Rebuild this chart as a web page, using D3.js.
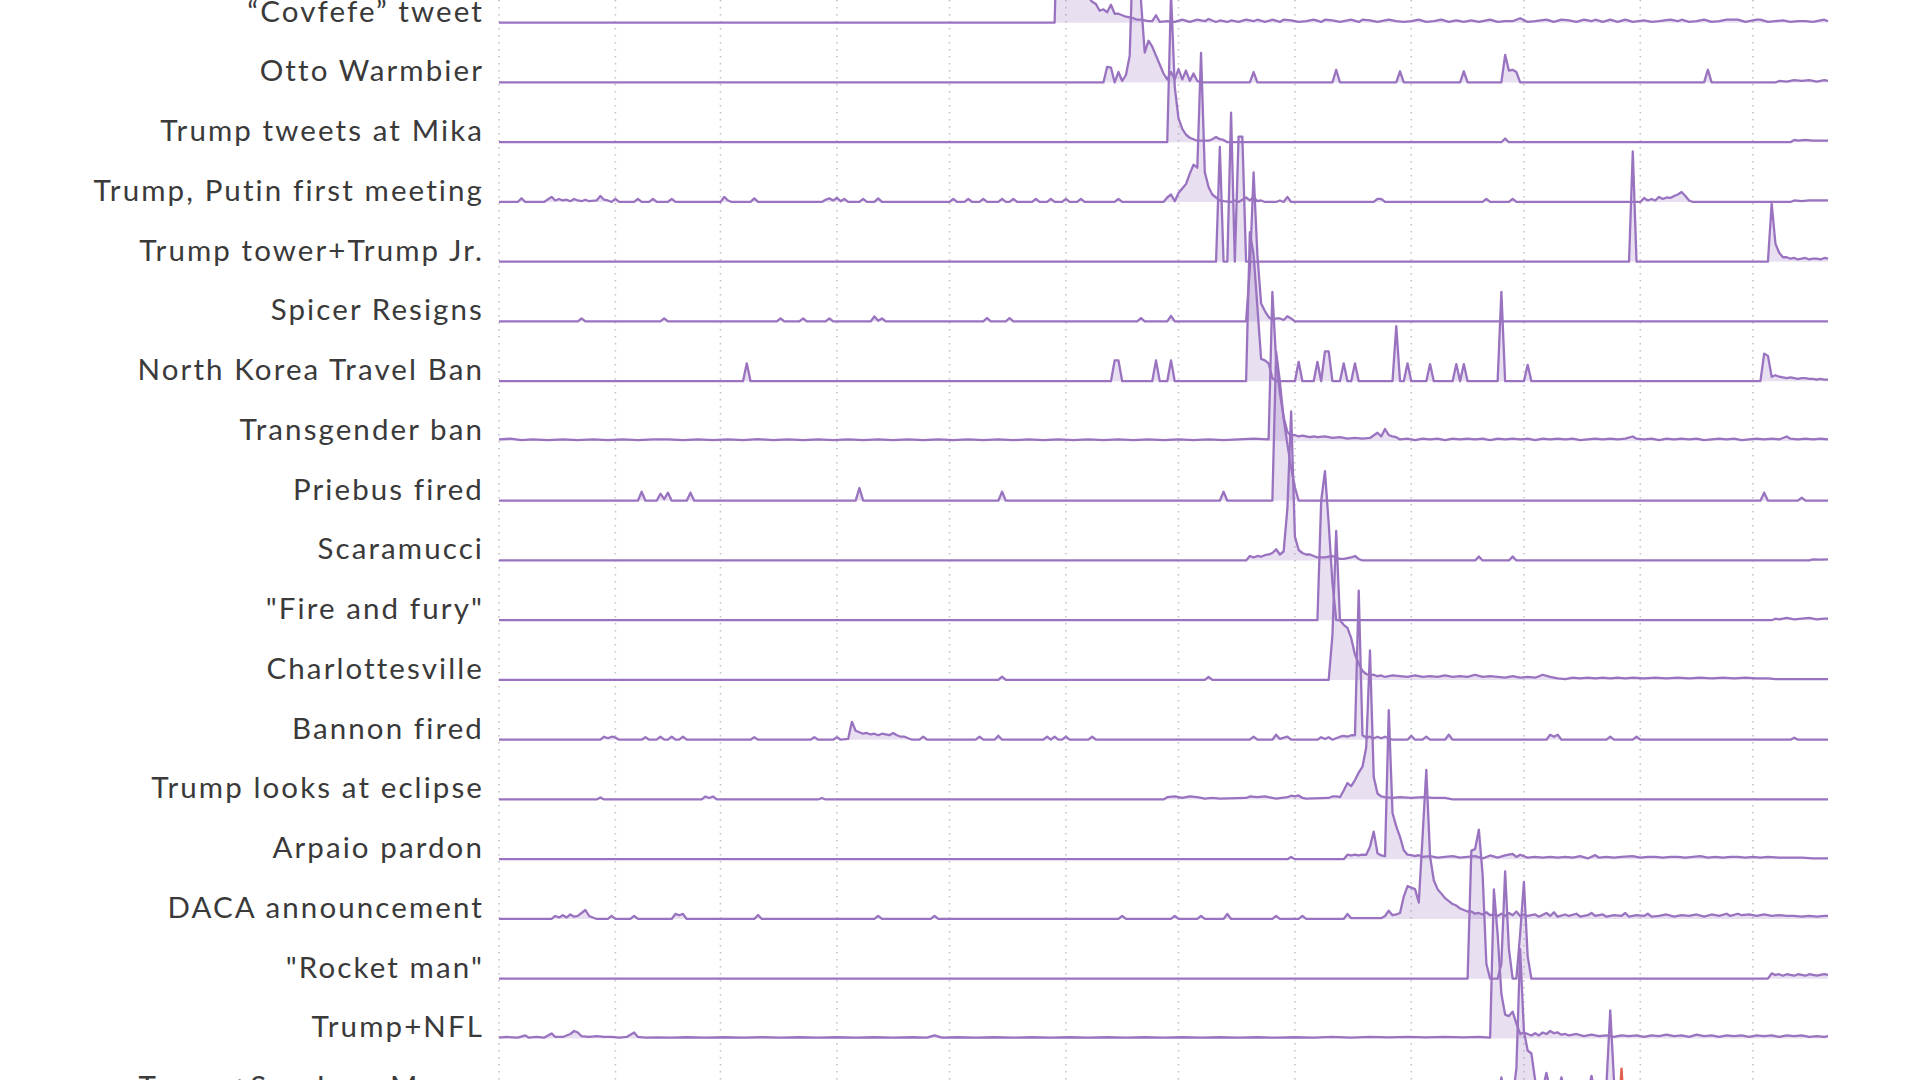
<!DOCTYPE html>
<html><head><meta charset="utf-8">
<script src="https://cdn.jsdelivr.net/npm/d3@7"></script>
<style>html,body{margin:0;padding:0;background:#fff;} svg{display:block;}</style>
</head><body>
<svg id="chart" width="1920" height="1080"></svg>
<script>
// ---- DATA: each series is a list of [dayOfYear2017 (0 = Jan 1), searchInterest 0-100] ----
const labels = ["“Covfefe” tweet","Otto Warmbier","Trump tweets at Mika","Trump, Putin first meeting",
  "Trump tower+Trump Jr.","Spicer Resigns","North Korea Travel Ban","Transgender ban","Priebus fired",
  "Scaramucci","\"Fire and fury\"","Charlottesville","Bannon fired","Trump looks at eclipse",
  "Arpaio pardon","DACA announcement","\"Rocket man\"","Trump+NFL","Trump+San Juan Mayor",""];

const covfefe = [[0,0],[147,0],[148,0],[149,100],[150,72],[151,52],[152,42],[153,35],[154,30],[155,25],[156,21],[157,17],[158,14],[159,12.5],[160,8],[161,9],[162,7],[163,12],[164,6],[165,6],[166,5],[167,4],[168,3.5],[169,3],[170,2],[171,2],[172,1.5],[173,1],[174,1],[175,5],[176,0.5],[178,1],[180,0.5],[182,2],[184,0.5],[186,2],[188,1],[189,2.5],[191,0.5],[192,1.5],[194,0.5],[195,1.5],[197,0.5],[199,2],[201,1],[202,2],[204,0.5],[206,2],[208,0.5],[209,2],[211,1.5],[213,0.5],[215,1],[217,2],[219,0.5],[220,2],[222,1.5],[224,0.5],[227,2],[229,0.5],[230,2],[232,1.5],[234,0.5],[237,2],[239,1],[241,0.5],[243,1],[245,2],[247,0.5],[249,1],[251,2],[253,0.5],[255,1.5],[257,0.5],[259,1.5],[261,0.5],[264,2],[266,0.5],[268,1],[270,1],[272,3],[274,0.5],[276,1],[279,2],[281,0.5],[283,2],[285,1.5],[287,0.5],[289,2],[291,1],[292,2],[294,0.5],[296,2],[298,0.5],[300,2],[302,0.5],[305,1.5],[307,0.5],[309,1],[312,2],[314,1],[315,2],[317,0.5],[319,1],[321,2],[323,0.5],[325,1],[327,2],[330,2],[332,0.5],[335,2],[336,2],[338,0.5],[340,1],[342,1.5],[344,0.5],[346,1],[348,1],[350,0.5],[353,2],[354,1]];

const otto = [[0,0],[161,0],[162,10.5],[163,10],[164,0],[165,7],[166,1],[167,5],[168,18],[169,100],[170,75],[171,55],[172,20],[173,28],[174,24],[175,18],[176,12],[177,6],[178,2],[179,7],[180,2],[181,9],[182,2],[183,8],[184,1],[185,6],[186,1],[187,0],[200,0],[201,7],[202,0],[222,0],[223,8.5],[224,0],[239,0],[240,7.5],[241,0],[256,0],[257,7.5],[258,0],[267,0],[268,18.5],[269,8],[270,8.5],[271,7],[272,0],[321,0],[322,8.5],[323,0],[340,0],[341,1],[343,0.5],[345,1.5],[347,1],[349,1.5],[351,0.5],[353,1.5],[354,1]];

const mika = [[0,0],[177,0],[178,0],[179,100],[180,37],[181,16],[182,9],[183,5],[184,3],[185,2],[186,1],[187,1],[188,1],[189,1],[190,2],[191,3.5],[192,2],[193,1.5],[194,0],[267,0],[268,2.5],[269,0],[344,0],[345,1.5],[346,1],[348,1.5],[350,1],[352,1],[354,1]];

const putin = [[0,0],[5,0],[6,2.5],[7,0],[12,0],[14,3.4],[15,1],[16,2],[17,1],[18,1.5],[19,0.5],[20,2],[21,1],[22,0.5],[23,1.5],[24,0.5],[26,1],[27,4],[28,1.5],[29,1],[30,0],[31,2],[32,0],[36,0],[37,2],[38,0],[40,0],[41,2],[42,0],[45,0],[46,2],[47,0],[59,0],[60,3.4],[61,1],[62,0],[67,0],[68,2.4],[69,0],[86,0],[87,1.5],[88,2.4],[89,1],[90,2.7],[91,0.5],[92,2],[93,0],[96,0],[97,2],[98,0],[100,0],[101,2.4],[102,0],[120,0],[121,2],[122,0],[124,0],[125,2],[126,0],[128,0],[129,2],[130,0],[133,0],[134,2],[135,0],[136,0],[137,2],[138,0],[142,0],[143,2],[144,0],[146,0],[147,2],[148,0],[150,0],[151,2],[152,0],[154,0],[155,2],[156,0],[164,0],[165,2],[166,0],[177,0],[178,3],[179,5],[180,0.5],[181,6],[182,9],[183,12],[184,19],[185,25],[186,23],[187,100],[188,20],[189,10],[190,5],[191,3],[192,1],[193,0.5],[195,0],[196,1],[197,0],[199,3],[200,1],[201,3.4],[202,0.5],[203,1],[204,0],[207,0],[208,1],[209,0],[210,3.4],[211,0],[233,0],[234,2],[235,2],[236,0],[262,0],[263,2],[264,0],[269,0],[270,2],[271,0],[304,0],[305,2.7],[306,1],[307,2],[308,1],[309,3.4],[310,2],[311,3],[312,2.7],[313,4],[314,5],[315,6.7],[316,4],[317,1],[318,0],[344,0],[345,1],[347,0.5],[349,1],[351,1],[354,1]];

const trumpTower = [[0,0],[191,0],[192,77],[193,0],[194,0],[195,100],[196,0],[197,84],[198,84],[199,0],[301,0],[302,74],[303,0],[338,0],[339,39],[340,12],[341,6],[342,3],[343,3],[344,2],[345,2.5],[346,1.5],[347,2],[348,2.5],[349,1.5],[350,2],[351,2],[352,1.5],[353,2.5],[354,2]];

const spicer = [[0,0],[21,0],[22,2],[23,0],[43,0],[44,2],[45,0],[74,0],[75,2],[76,0],[80,0],[81,2],[82,0],[87,0],[88,2],[89,0],[99,0],[100,3.4],[101,0.5],[102,2],[103,0],[129,0],[130,2.3],[131,0],[135,0],[136,2.3],[137,0],[170,0],[171,2.3],[172,0],[178,0],[179,3.7],[180,0],[199,0],[200,35],[201,100],[202,45],[203,12],[204,7],[205,3],[206,1],[207,2],[208,2],[209,1],[210,3.5],[211,2],[212,0],[354,0]];

const northKorea = [[0,0],[65,0],[66,12],[67,0],[163,0],[164,14],[165,14],[166,0],[174,0],[175,14],[176,0],[178,0],[179,14],[180,0],[199,0],[200,100],[201,85],[202,50],[203,15],[204,14],[205,12],[206,2],[207,0],[212,0],[213,13],[214,0],[217,0],[218,13],[219,0],[220,20],[221,20],[222,0],[224,0],[225,12],[226,0],[227,0],[228,12],[229,0],[238,0],[239,37],[240,0],[241,0],[242,12],[243,0],[247,0],[248,11.5],[249,0],[254,0],[255,11.5],[256,0],[257,11.5],[258,0],[266,0],[267,60],[268,0],[273,0],[274,11],[275,0],[336,0],[337,18.5],[338,17],[339,3],[340,4],[341,3],[342,2.5],[343,2],[344,2.5],[345,2],[346,1.5],[347,2],[348,2],[349,1.5],[350,1.5],[351,1],[352,1.5],[353,1],[354,1]];

const transgender = [[0,1],[3,1.5],[6,0.5],[9,1],[13,0.5],[17,1],[21,0.5],[25,1],[29,0.5],[33,1],[37,0.5],[41,1],[45,1],[49,0.5],[53,1],[57,0.5],[61,1],[65,0.5],[69,1.2],[73,0.5],[77,1],[81,0.5],[85,1],[89,0.5],[93,1],[97,0.5],[101,1],[105,0.5],[109,1],[113,0.5],[117,1],[121,0.5],[125,1],[129,0.5],[133,1],[137,0.5],[141,1],[145,0.5],[149,1],[153,0.5],[157,1],[161,0.5],[165,1],[169,0.5],[173,1],[177,0.5],[181,1],[185,0.5],[189,1],[193,0.5],[197,1],[201,1.5],[205,1],[206,100],[207,54],[208,32],[209,16],[210,6],[211,3.5],[212,4],[213,3],[214,3.5],[215,3],[216,2.5],[217,3],[218,2.5],[220,3],[222,2],[224,2.5],[226,1.5],[228,2],[230,1.5],[232,2],[234,5.5],[235,3],[236,8],[237,4],[238,3],[239,2.5],[240,1],[242,1.5],[244,0.5],[246,1.5],[248,1],[250,1.5],[252,0.5],[254,1.5],[256,1],[258,1.5],[260,1],[262,1.5],[264,0.5],[266,1.5],[268,1],[270,1.5],[272,1],[274,1.5],[276,0.5],[278,1.5],[280,1],[282,1.5],[284,1],[286,1.5],[288,0.5],[290,1],[292,1.5],[294,1],[296,1.5],[298,1],[300,1.5],[302,3],[303,1.5],[305,1],[307,1.5],[309,0.5],[311,1.5],[313,1],[315,1.5],[317,1],[319,1.5],[321,0.5],[323,1],[325,1.5],[327,1],[329,1.5],[331,0.5],[333,1],[335,1.5],[337,1],[339,1.5],[341,1],[343,3],[344,1.5],[346,1],[348,1.5],[350,1],[352,1.5],[354,1]];

const priebus = [[0,0],[37,0],[38,6],[39,0],[42,0],[43,4.7],[44,1],[45,5.4],[46,0],[50,0],[51,5.4],[52,0],[95,0],[96,8.5],[97,0],[133,0],[134,6],[135,0],[192,0],[193,6],[194,0],[206,0],[207,100],[208,80],[209,55],[210,38],[211,22],[212,9],[213,0],[336,0],[337,5.4],[338,0],[346,0],[347,2],[348,0],[354,0]];

const scaramucci = [[0,0],[199,0],[200,3],[201,2],[202,3],[203,2.5],[204,3.5],[205,4],[206,5],[207,7.5],[208,4],[209,6],[210,35],[211,100],[212,16],[213,7],[214,5],[215,4],[216,4],[217,3],[218,2],[219,2],[220,2],[221,2.5],[222,3],[223,2],[224,1],[225,1],[226,1.5],[227,2],[228,3],[229,1],[230,0],[260,0],[261,2.7],[262,0],[269,0],[270,2.7],[271,0],[349,0],[350,0.7],[352,0.5],[354,0.7]];

const fireFury = [[0,0],[218,0],[219,80],[220,100],[221,65],[222,25],[223,0],[339,0],[340,1],[341,0.5],[343,1.5],[345,0.5],[347,1],[349,1.5],[351,0.5],[353,1],[354,1]];

const charlottesville = [[0,0],[133,0],[134,2.2],[135,0],[188,0],[189,2],[190,0],[221,0],[222,30],[223,100],[224,40],[225,37],[226,35],[227,28],[228,17],[229,11],[230,6],[231,4],[232,3],[233,3.5],[234,2.5],[235,3],[236,2],[238,3],[240,2.5],[242,2],[244,3],[246,2],[248,2.5],[250,2],[252,3],[254,2],[256,2.5],[258,2],[260,3.5],[262,2],[264,2.5],[266,2],[268,1.5],[270,2.5],[272,1.5],[274,2],[276,1.5],[278,3.5],[280,2],[282,1],[284,0.5],[286,1.5],[288,1],[290,1.5],[292,1],[294,1.5],[296,1],[298,1.5],[300,1],[302,1.5],[305,1],[308,1.5],[311,1],[314,1.5],[317,1],[320,1.5],[323,1],[326,1.5],[329,1],[332,1.5],[335,1],[338,1],[340,0.5],[343,0.5],[346,0.5],[350,0.5],[354,0.5]];

const bannon = [[0,0],[27,0],[28,2],[29,1],[30,2],[31,1.5],[32,0],[38,0],[39,1.7],[40,0],[42,0],[43,2],[44,0],[45,0],[46,2],[47,0],[48,0],[49,2],[50,0],[67,0],[68,1.7],[69,0],[83,0],[84,1.7],[85,0],[89,0],[90,1.7],[91,0],[93,0.5],[94,12],[95,6],[96,5],[97,4],[98,4.5],[99,3.5],[100,4],[101,3],[102,4],[103,3.5],[104,3],[105,4.5],[106,3],[107,2],[108,2],[109,1],[110,0],[112,0],[113,2],[114,0],[127,0],[128,2],[129,0],[132,0],[133,2.7],[134,0],[145,0],[146,2],[147,0],[148,2],[149,0],[150,0],[151,2],[152,0],[157,0],[158,2],[159,0],[200,0],[201,2],[202,0],[206,0],[207,3.4],[208,0.5],[210,2],[211,0],[218,0],[219,1.7],[220,0.5],[221,1.7],[222,0],[224,2],[225,2.5],[226,2],[227,3],[228,3],[229,100],[230,3],[231,1.5],[232,2],[233,1],[234,2],[235,1],[236,2],[237,1],[238,0],[242,0],[243,2.7],[244,0],[246,0],[247,2],[248,0],[252,0],[253,3.4],[254,0],[279,0],[280,3.4],[281,2],[282,3.4],[283,0],[295,0],[296,2],[297,0],[302,0],[303,2],[304,0],[344,0],[345,1.3],[346,0],[354,0]];

const eclipse = [[0,0],[26,0],[27,1.3],[28,0],[54,0],[55,2],[56,1],[57,2],[58,0],[85,0],[86,1],[87,0],[177,0],[178,1.5],[180,2],[182,1],[184,2],[186,1.5],[188,0.5],[190,1],[192,0.5],[199,1],[200,2],[202,1.5],[204,2],[206,1],[207,0.5],[210,1.5],[211,2.5],[212,2],[213,2.7],[214,1],[215,0.5],[221,1],[222,2],[223,2],[224,1.5],[225,6],[226,11],[227,9],[228,13],[229,18],[230,22],[231,35],[232,100],[233,15],[234,4],[235,2],[236,1.5],[238,1],[240,1.5],[243,1],[246,1.5],[249,1],[252,1],[254,0],[354,0]];

const arpaio = [[0,0],[210,0],[211,1.5],[212,0],[225,0],[226,3],[227,2.5],[228,3],[229,2.5],[230,3],[231,3],[232,8.4],[233,18.5],[234,4],[235,2.5],[236,2],[237,100],[238,31],[239,22],[240,15],[241,6],[242,3],[243,2.7],[244,2],[245,2.7],[246,1.5],[248,2],[250,1],[252,1.5],[254,2],[256,1],[258,1.5],[260,2],[262,0.5],[264,2.5],[266,1],[268,2.5],[270,3.5],[271,1.5],[272,3],[274,1],[276,1.5],[278,1],[280,1.5],[282,1],[284,1.5],[286,1],[288,2],[290,0.5],[292,2.7],[293,1],[295,1.5],[297,1],[299,1.5],[302,2],[304,1],[306,1.5],[308,1.5],[310,1],[312,1.5],[314,1.5],[316,1],[318,1.5],[320,2],[322,1],[324,1.5],[326,1],[328,1.5],[330,1.5],[332,1],[334,1.5],[336,1],[338,1.5],[341,1],[344,1],[347,1],[350,0.5],[354,0.5]];

const daca = [[0,0],[14,0],[15,2],[16,1],[17,2.5],[18,1],[19,3],[20,1.5],[21,2],[22,4],[23,6],[24,2],[25,1],[26,0],[29,0],[30,2],[31,0],[35,0],[36,2],[37,0],[46,0],[47,3.4],[48,2.5],[49,3.4],[50,0],[68,0],[69,2.7],[70,0],[100,0],[101,2],[102,0],[115,0],[116,2],[117,0],[165,0],[166,2],[167,0],[179,0],[180,2],[181,0],[186,0],[187,2],[188,0],[193,0],[194,3.4],[195,0],[206,0],[207,2],[208,0],[213,0],[214,2],[215,0],[225,0],[226,3.4],[227,0.5],[235,0.5],[236,2],[237,5.5],[238,2.5],[239,3],[240,4],[241,15],[242,22],[243,21],[244,20],[245,11],[246,55],[247,100],[248,42],[249,26],[250,20],[251,17],[252,14],[253,12],[254,10],[255,9],[256,7],[257,6],[258,5],[259,5],[260,3.5],[261,4],[262,3],[263,4.5],[264,2.5],[265,3],[266,2],[267,3.5],[268,2],[269,4],[270,2.5],[271,5],[272,2],[273,3],[274,2],[276,3],[277,1.5],[279,4],[280,2],[281,4.5],[282,1.5],[284,3],[285,2],[287,3.5],[288,1.5],[290,2.5],[291,4],[292,2],[294,3],[295,1.5],[297,2.5],[299,2],[300,4],[301,1.5],[303,2.5],[305,2],[306,3.5],[307,1.5],[309,2],[311,3],[313,1.5],[315,2.5],[317,2],[319,3],[321,1.5],[323,3],[325,2],[327,3.5],[328,2],[330,3.5],[331,2.5],[333,3],[335,2],[337,3],[339,2],[341,2.5],[343,2],[345,2],[347,1.5],[349,2],[351,1.5],[353,2],[354,2]];

const rocketMan = [[0,0],[258,0],[259,86],[260,87],[261,100],[262,70],[263,10],[264,0],[266,0],[267,10],[268,72],[269,20],[270,0],[271,0],[272,30],[273,65],[274,15],[275,0],[338,0],[339,3.6],[340,2.5],[341,3],[342,2],[343,3],[344,2.5],[345,2],[346,3],[347,2.5],[348,2],[349,3],[350,2.5],[351,2],[352,2.5],[353,3],[354,2.5]];

const nfl = [[0,0.5],[2,1],[5,0.5],[7,2],[8,0.5],[10,1],[12,0.5],[14,3.4],[15,1],[17,1],[19,3],[20,5],[21,4],[22,1.5],[24,1],[26,1.5],[28,1],[30,1],[32,0.5],[34,1],[36,4],[37,1],[39,0.5],[42,0.7],[46,0.5],[50,0.8],[55,0.5],[60,0.8],[65,0.5],[70,0.8],[75,0.5],[80,0.8],[85,0.5],[90,0.8],[95,0.5],[100,0.8],[105,0.5],[110,0.8],[114,0.5],[116,2],[118,0.5],[122,0.8],[127,0.5],[132,0.8],[137,0.5],[142,0.8],[147,0.5],[152,0.8],[157,0.5],[162,0.8],[167,0.5],[172,0.8],[177,0.5],[182,0.8],[187,0.5],[192,0.8],[197,0.5],[202,0.8],[207,0.5],[212,0.8],[217,0.5],[222,1],[227,0.5],[232,1],[237,0.7],[242,1],[247,0.7],[252,1],[257,0.7],[261,1],[264,0.5],[265,100],[266,70],[267,30],[268,16],[269,15],[270,18],[271,10],[272,3],[273,4],[274,3],[275,2],[276,3.5],[277,2],[278,4],[279,3],[280,5],[281,3.5],[282,4],[283,2.5],[284,3],[285,2],[287,3],[289,1.5],[291,2.5],[293,1.5],[295,2],[297,1],[299,2],[301,1.5],[303,2],[305,1],[307,2],[309,1.5],[311,2.5],[313,1.5],[315,2],[317,1],[319,2.5],[321,1.5],[323,2],[325,1],[327,2],[329,1.5],[331,2],[333,1],[335,2],[337,1.5],[339,2],[341,1],[343,2],[345,1.5],[347,2],[349,1],[351,1.5],[353,1],[354,1.5]];

const sanJuan = [[0,0],[266,0],[267,14],[268,0],[270,0],[271,20],[272,100],[273,45],[274,32],[275,30],[276,12],[277,8],[278,6],[279,17],[280,5],[281,4],[282,3],[283,14],[284,3],[285,2],[287,2],[290,3],[291,15],[292,3],[294,2],[295,10],[296,59],[297,12],[298,6],[299,4],[300,3],[302,2],[305,2],[310,1.5],[320,1],[330,1],[340,1],[354,1]];

const redSeries = [[0,0],[297,0],[298,20],[299,60],[300,20],[301,0],[354,0]];

const allSeries = [covfefe, otto, mika, putin, trumpTower, spicer, northKorea, transgender, priebus,
  scaramucci, fireFury, charlottesville, bannon, eclipse, arpaio, daca, rocketMan, nfl, sanJuan, redSeries];
const seriesColors = labels.map((l, i) => i === 19 ? "red" : "purple");

const monthTicks = ["2017-01-01","2017-02-01","2017-03-01","2017-04-01","2017-05-01","2017-06-01",
  "2017-07-01","2017-08-01","2017-09-01","2017-10-01","2017-11-01","2017-12-01"];

// ---- DRAW ----
const svg = d3.select("#chart");
svg.append("rect").attr("width",1920).attr("height",1080).attr("fill","#fff");

const start = new Date(2017,0,1);
const x = d3.scaleTime().domain([start, new Date(2017,11,21)]).range([499, 1828]);
const row = d3.scalePoint().domain(d3.range(allSeries.length)).range([22.7, 22.7 + 59.75*(allSeries.length-1)]);
const h = d3.scaleLinear().domain([0,100]).range([0,149]);
const parseDay = d => d3.timeDay.offset(start, d);
const parseTick = d3.timeParse("%Y-%m-%d");

// gridlines
svg.append("g").selectAll("line").data(monthTicks).join("line")
  .attr("x1", d => x(parseTick(d))).attr("x2", d => x(parseTick(d)))
  .attr("y1", 0).attr("y2", 1080)
  .attr("stroke", "#c4c4c4").attr("stroke-width", 1.6).attr("stroke-dasharray", "1.6,5.4");

const palette = {
  purple: {stroke: "#9a73c0", fill: "rgba(160,120,196,0.24)"},
  red: {stroke: "#e0604f", fill: "rgba(224,96,79,0.2)"}
};

allSeries.forEach((s, i) => {
  const base = row(i);
  const pts = s.slice().sort((a,b) => a[0]-b[0]);
  const area = d3.area().x(d => x(parseDay(d[0]))).y0(base).y1(d => base - h(d[1]));
  const line = d3.line().x(d => x(parseDay(d[0]))).y(d => base - h(d[1]));
  const c = palette[seriesColors[i]];
  const g = svg.append("g");
  g.append("path").attr("d", area(pts)).attr("fill", c.fill);
  g.append("path").attr("d", line(pts)).attr("fill","none").attr("stroke", c.stroke)
    .attr("stroke-width", 2.3).attr("stroke-linejoin","round");
  if (labels[i]) {
    g.append("text").attr("x", 484).attr("y", base - 1)
      .attr("text-anchor","end").attr("font-family","Lato, 'Open Sans', sans-serif")
      .attr("font-size", 29.5).attr("letter-spacing", 2.1).attr("fill","#3a3a3a").text(labels[i]);
  }
});
</script>
</body></html>
